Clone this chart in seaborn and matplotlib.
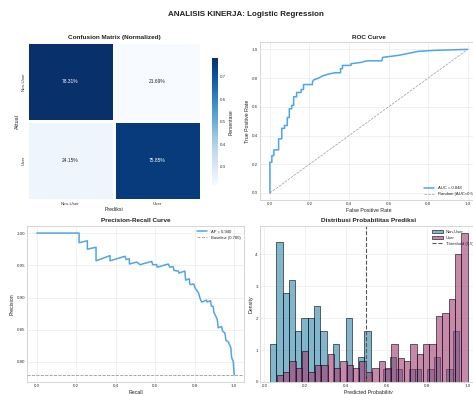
import numpy as np
import pandas as pd
import matplotlib
matplotlib.use("Agg")
import matplotlib.pyplot as plt
import seaborn as sns

# ---- data ----
class_names = ["Non-User", "User"]
cm_counts = [[65, 18],
             [71, 223]]

roc_fpr = [0.0, 0.0, 0.010, 0.010, 0.020, 0.020, 0.044, 0.044, 0.060, 0.060, 0.074,
           0.074, 0.088, 0.088, 0.098, 0.098, 0.110, 0.110, 0.120, 0.120, 0.135, 0.135,
           0.158, 0.158, 0.170, 0.170, 0.215, 0.215, 0.220, 0.246, 0.266, 0.296, 0.330,
           0.357, 0.357, 0.367, 0.367, 0.410, 0.410, 0.465, 0.490, 0.566, 0.570, 0.650,
           0.700, 0.750, 0.835, 1.0]
roc_tpr = [0.0, 0.214, 0.214, 0.260, 0.260, 0.300, 0.300, 0.377, 0.377, 0.450, 0.450,
           0.470, 0.470, 0.525, 0.525, 0.586, 0.586, 0.610, 0.610, 0.670, 0.670, 0.700,
           0.700, 0.720, 0.720, 0.755, 0.755, 0.770, 0.786, 0.800, 0.814, 0.828, 0.837,
           0.837, 0.865, 0.865, 0.888, 0.888, 0.900, 0.910, 0.920, 0.920, 0.944, 0.958,
           0.972, 0.986, 0.993, 1.0]
roc_auc = 0.848

pr_recall = [0.0, 0.214, 0.214, 0.256, 0.256, 0.300, 0.300, 0.371, 0.371, 0.447, 0.452,
             0.469, 0.469, 0.506, 0.523, 0.582, 0.587, 0.607, 0.610, 0.666, 0.674, 0.691,
             0.695, 0.717, 0.720, 0.750, 0.754, 0.772, 0.776, 0.796, 0.800, 0.810, 0.818,
             0.823, 0.830, 0.836, 0.860, 0.863, 0.880, 0.884, 0.894, 0.897, 0.907, 0.914,
             0.919, 0.936, 0.941, 0.953, 0.958, 0.970, 0.978, 0.983, 0.987, 0.995, 1.0]
pr_precision = [1.0, 1.0, 0.985, 0.988, 0.975, 0.978, 0.957, 0.965, 0.957, 0.964, 0.959,
                0.960, 0.952, 0.955, 0.951, 0.956, 0.951, 0.951, 0.947, 0.952, 0.947, 0.948,
                0.942, 0.941, 0.938, 0.941, 0.927, 0.929, 0.920, 0.921, 0.916, 0.911, 0.908,
                0.903, 0.896, 0.893, 0.896, 0.893, 0.895, 0.887, 0.886, 0.877, 0.871, 0.866,
                0.853, 0.855, 0.848, 0.845, 0.834, 0.831, 0.826, 0.822, 0.807, 0.801, 0.780]
avg_precision = 0.940
baseline = 0.780

# predicted-probability histograms (counts per bin)
nonuser_range = (0.027, 0.956)
nonuser_counts = [3, 11, 7, 8, 4, 5, 5, 6, 4, 0, 3, 0, 5, 0, 2,
                  4, 0, 0, 1, 2, 1, 0, 1, 1, 0, 1, 2, 0, 1, 4]
user_range = (0.060, 0.999)
user_counts = [2, 3, 6, 4, 9, 3, 5, 5, 8, 4, 6, 5, 4, 6, 3,
               4, 6, 4, 11, 7, 6, 11, 8, 11, 11, 19, 20, 24, 37, 43]
threshold = 0.5

# ---- style ----
sns.set_theme(style="whitegrid")
plt.rcParams.update({
    "font.family": ["Liberation Sans", "DejaVu Sans"],
    "axes.edgecolor": "#d0d0d0",
    "axes.linewidth": 0.6,
    "grid.color": "#ececec",
    "grid.linewidth": 0.5,
    "xtick.labelsize": 3.2,
    "ytick.labelsize": 3.2,
    "axes.labelsize": 3.8,
    "axes.titlesize": 4.6,
    "axes.titleweight": "bold",
    "legend.fontsize": 3.0,
    "xtick.major.pad": 1.5,
    "ytick.major.pad": 1.5,
    "axes.labelpad": 1.5,
    "axes.titlepad": 2.5,
    "text.color": "#222222",
    "axes.labelcolor": "#222222",
    "xtick.color": "#333333",
    "ytick.color": "#333333",
})

fig = plt.figure(figsize=(4.73, 3.94), dpi=100)
fig.suptitle("ANALISIS KINERJA: Logistic Regression", fontsize=5.8,
             fontweight="bold", x=0.52, y=0.973)

ax_cm = fig.add_axes([0.057, 0.492, 0.368, 0.401])
ax_cb = fig.add_axes([0.448, 0.530, 0.0127, 0.322])
ax_roc = fig.add_axes([0.5497, 0.492, 0.460, 0.401])
ax_pr = fig.add_axes([0.057, 0.0305, 0.459, 0.396])
ax_hist = fig.add_axes([0.5497, 0.0305, 0.460, 0.396])

# ---- confusion matrix ----
cm = np.array(cm_counts, dtype=float)
cm_norm = cm / cm.sum(axis=1, keepdims=True)
annot = np.array([[f"{v * 100:.2f}%" for v in row] for row in cm_norm])
sns.heatmap(cm_norm, annot=annot, fmt="", cmap="Blues", ax=ax_cm, cbar_ax=ax_cb,
            xticklabels=class_names, yticklabels=class_names,
            linewidths=1.0, linecolor="white",
            annot_kws={"fontsize": 3.5},
            cbar_kws={"label": "Persentase"})
ax_cm.set_title("Confusion Matrix (Normalized)")
ax_cm.set_xlabel("Prediksi", labelpad=1.0)
ax_cm.set_ylabel("Aktual", labelpad=1.0)
ax_cm.tick_params(axis="y", rotation=90)
ax_cm.tick_params(length=0, pad=1.0)
ax_cb.tick_params(labelsize=3.2, length=0, pad=1.5)
ax_cb.yaxis.label.set_size(3.6)
ax_cm.collections[0].colorbar.outline.set_visible(False)

# ---- ROC curve ----
roc_df = pd.DataFrame({"fpr": roc_fpr, "tpr": roc_tpr})
sns.lineplot(data=roc_df, x="fpr", y="tpr", sort=False, estimator=None,
             color="#4DA6E8", linewidth=1.1, label=f"AUC = {roc_auc:.3f}", ax=ax_roc)
sns.lineplot(x=[0, 1], y=[0, 1], color="#999999", linestyle="--", linewidth=0.5,
             label="Random (AUC=0.5)", ax=ax_roc)
ax_roc.set_title("ROC Curve")
ax_roc.set_xlabel("False Positive Rate")
ax_roc.set_ylabel("True Positive Rate")
ax_roc.legend(loc="lower right", frameon=False, handlelength=2.5)

# ---- Precision-Recall curve ----
pr_df = pd.DataFrame({"recall": pr_recall, "precision": pr_precision})
sns.lineplot(data=pr_df, x="recall", y="precision", sort=False, estimator=None,
             color="#4DA6E8", linewidth=1.1, label=f"AP = {avg_precision:.3f}", ax=ax_pr)
ax_pr.axhline(baseline, color="#999999", linestyle="--", linewidth=0.6,
              label=f"Baseline ({baseline:.3f})")
ax_pr.set_title("Precision-Recall Curve")
ax_pr.set_xlabel("Recall")
ax_pr.set_ylabel("Precision")
ax_pr.yaxis.set_major_formatter(matplotlib.ticker.FormatStrFormatter("%.2f"))
ax_pr.legend(loc="upper right", frameon=False, handlelength=2.5)

# ---- probability distribution ----
nu_edges = np.linspace(*nonuser_range, len(nonuser_counts) + 1)
u_edges = np.linspace(*user_range, len(user_counts) + 1)
nu_df = pd.DataFrame({"prob": (nu_edges[:-1] + nu_edges[1:]) / 2,
                      "count": nonuser_counts})
u_df = pd.DataFrame({"prob": (u_edges[:-1] + u_edges[1:]) / 2,
                     "count": user_counts})
sns.histplot(data=nu_df, x="prob", weights="count", bins=nu_edges.tolist(),
             stat="density", color="#2E86AB", alpha=0.6, edgecolor="black",
             linewidth=0.4, label="Non-User", ax=ax_hist)
sns.histplot(data=u_df, x="prob", weights="count", bins=u_edges.tolist(),
             stat="density", color="#A23B72", alpha=0.6, edgecolor="black",
             linewidth=0.4, label="User", ax=ax_hist)
ax_hist.axvline(threshold, color="#555555", linestyle="--", linewidth=0.8,
                label=f"Threshold ({threshold})")
ax_hist.set_title("Distribusi Probabilitas Prediksi")
ax_hist.set_xlabel("Predicted Probability")
ax_hist.set_ylabel("Density")
handles, labels = ax_hist.get_legend_handles_labels()
order = [labels.index(n) for n in ("Non-User", "User", f"Threshold ({threshold})")]
ax_hist.legend([handles[i] for i in order], [labels[i] for i in order],
               loc="upper right", frameon=False, handlelength=2.5)

for ax in (ax_roc, ax_pr, ax_hist):
    ax.tick_params(length=0)

fig.savefig("out.png", dpi=100)
